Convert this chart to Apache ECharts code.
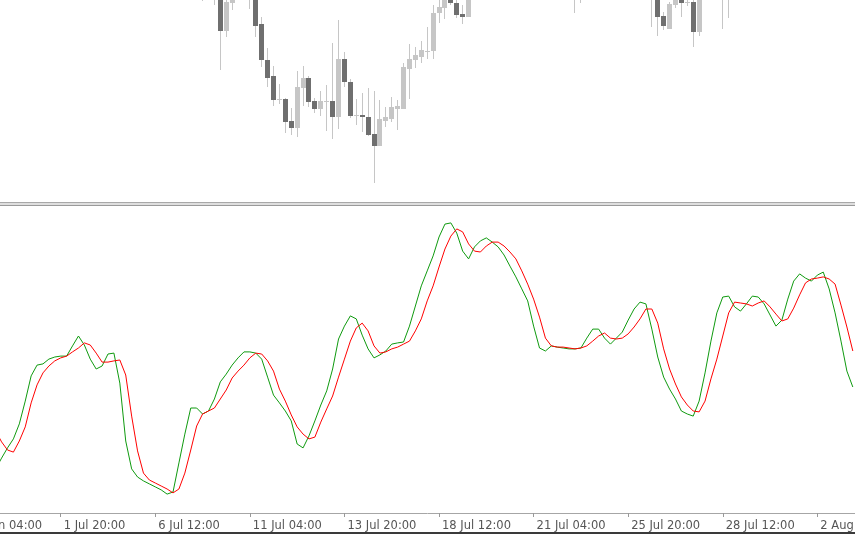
<!DOCTYPE html>
<html><head><meta charset="utf-8">
<script src="https://cdn.jsdelivr.net/npm/echarts@6/dist/echarts.min.js"></script>
<style>html,body{margin:0;padding:0;background:#fff}#c{width:855px;height:534px}</style>
</head><body><div id="c"></div>
<script>
// H4 bars, numbered relative to the "1 Jul 20:00" bar (bar 0)
const firstBar = -16;
const barCount = 151;

// time-axis labels, one every 16 bars starting at bar -16
const tickLabels = ['29 Jun 04:00', '1 Jul 20:00', '6 Jul 12:00', '11 Jul 04:00', '13 Jul 20:00',
  '18 Jul 12:00', '21 Jul 04:00', '25 Jul 20:00', '28 Jul 12:00', '2 Aug 04:00'];

// Stochastic main line (%K), bars -16 .. 134
const stochMain = [null, null, null, null, null,
  14.7, 18.3, 21.7, 24.7, 29.7, 37.3, 45.7, 49.3, 49.7, 51.3, 52.0,
  52.3, 52.3, 55.7, 59.0, 56.0, 51.3, 48.0, 49.0, 53.0, 53.3,
  43.3, 24.0, 14.7, 12.0, 10.7, 9.7, 8.7, 7.7, 6.3, 7.0,
  16.7, 26.3, 35.0, 35.0, 33.0, 34.0, 38.0, 43.7, 46.3, 49.3,
  51.7, 53.7, 53.7, 53.3, 51.3, 45.3, 39.3, 36.7, 34.0, 30.7,
  23.0, 21.7, 25.7, 30.7, 36.0, 40.7, 48.0, 58.0, 62.3, 65.7,
  64.7, 59.3, 54.7, 51.7, 52.7, 54.0, 56.3, 56.7, 57.0, 62.3,
  69.0, 75.7, 80.7, 85.7, 92.0, 96.3, 96.7, 93.3, 87.3, 84.7,
  88.7, 90.7, 91.7, 90.3, 88.7, 86.0, 82.3, 78.7, 74.7, 70.7,
  62.3, 55.0, 54.0, 55.7, 55.3, 55.0, 54.7, 54.7, 55.0, 58.3,
  61.3, 61.3, 58.3, 56.3, 58.3, 60.3, 64.3, 68.0, 70.3, 69.7,
  61.3, 52.0, 45.3, 41.3, 38.0, 34.0, 33.0, 32.3, 37.3, 46.7,
  57.3, 66.7, 72.0, 72.3, 68.7, 67.3, 69.7, 72.3, 72.0, 69.7,
  66.0, 62.3, 64.3, 71.3, 77.3, 79.7, 78.3, 77.3, 79.3, 80.3,
  74.7, 66.7, 57.3, 47.3, 42.0];

// Stochastic signal line (%D), bars -16 .. 134
const stochSignal = [null, null, null, null, null,
  27.3, 23.7, 21.0, 20.3, 24.0, 28.7, 36.7, 42.7, 46.7, 49.0, 50.7,
  51.7, 52.3, 53.7, 55.0, 56.7, 56.0, 53.3, 50.3, 50.3, 50.7,
  51.0, 46.0, 32.3, 20.7, 13.3, 11.0, 10.0, 9.0, 8.0, 6.7,
  8.0, 13.3, 21.0, 29.0, 33.0, 34.0, 35.0, 38.0, 41.0, 45.0,
  47.3, 49.3, 51.7, 53.3, 53.0, 50.7, 47.3, 41.3, 37.3, 32.7,
  28.7, 26.3, 24.7, 25.3, 30.3, 34.7, 39.0, 45.3, 51.3, 57.3,
  61.7, 63.3, 60.7, 55.7, 53.3, 53.7, 54.7, 55.3, 56.3, 57.3,
  60.7, 64.7, 70.7, 75.7, 82.0, 88.0, 92.3, 94.7, 93.7, 89.7,
  87.3, 87.0, 89.0, 90.3, 90.3, 89.0, 87.0, 84.7, 80.7, 76.3,
  71.3, 65.3, 58.3, 55.7, 55.3, 55.3, 55.0, 54.7, 55.0, 55.7,
  57.3, 59.0, 60.0, 58.3, 58.0, 58.3, 59.7, 62.0, 64.7, 68.0,
  68.0, 63.3, 54.7, 48.0, 43.0, 38.7, 36.0, 34.0, 33.7, 37.3,
  44.7, 51.3, 59.0, 66.7, 70.3, 70.0, 69.7, 69.0, 70.0, 70.7,
  68.7, 66.3, 64.0, 64.7, 68.3, 72.7, 76.7, 78.0, 78.3, 78.7,
  78.0, 76.3, 69.3, 62.0, 54.0];

// candles visible in the cropped price window: [bar, open, high, low, close]
const candles = [
  [24, 1.4408, 1.4420, 1.4399, 1.4415],
  [26, 1.4425, 1.4430, 1.4395, 1.4408],
  [27, 1.4405, 1.4410, 1.4330, 1.4369],
  [28, 1.4369, 1.4405, 1.4363, 1.4398],
  [29, 1.4397, 1.4408, 1.4390, 1.4404],
  [32, 1.4420, 1.4425, 1.4391, 1.4403],
  [33, 1.4403, 1.4408, 1.4363, 1.4374],
  [34, 1.4376, 1.4383, 1.4333, 1.4340],
  [35, 1.4340, 1.4352, 1.4313, 1.4322],
  [36, 1.4324, 1.4334, 1.4294, 1.4300],
  [37, 1.4300, 1.4316, 1.4296, 1.4301],
  [38, 1.4301, 1.4302, 1.4267, 1.4278],
  [39, 1.4279, 1.4292, 1.4265, 1.4272],
  [40, 1.4272, 1.4329, 1.4263, 1.4313],
  [41, 1.4312, 1.4334, 1.4294, 1.4322],
  [42, 1.4322, 1.4324, 1.4293, 1.4298],
  [43, 1.4299, 1.4302, 1.4287, 1.4291],
  [44, 1.4291, 1.4309, 1.4284, 1.4299],
  [45, 1.4299, 1.4315, 1.4269, 1.4299],
  [46, 1.4299, 1.4357, 1.4261, 1.4283],
  [47, 1.4283, 1.4380, 1.4271, 1.4341],
  [48, 1.4341, 1.4348, 1.4313, 1.4318],
  [49, 1.4318, 1.4321, 1.4282, 1.4284],
  [50, 1.4285, 1.4301, 1.4275, 1.4285],
  [51, 1.4285, 1.4307, 1.4268, 1.4283],
  [52, 1.4283, 1.4312, 1.4264, 1.4265],
  [53, 1.4266, 1.4309, 1.4217, 1.4254],
  [54, 1.4254, 1.4300, 1.4254, 1.4281],
  [55, 1.4279, 1.4293, 1.4273, 1.4283],
  [56, 1.4281, 1.4303, 1.4278, 1.4293],
  [57, 1.4291, 1.4300, 1.4270, 1.4294],
  [58, 1.4291, 1.4337, 1.4291, 1.4333],
  [59, 1.4331, 1.4356, 1.4301, 1.4341],
  [60, 1.4340, 1.4353, 1.4332, 1.4345],
  [61, 1.4343, 1.4359, 1.4337, 1.4350],
  [62, 1.4349, 1.4373, 1.4341, 1.4349],
  [63, 1.4349, 1.4395, 1.4341, 1.4387],
  [64, 1.4387, 1.4403, 1.4377, 1.4393],
  [65, 1.4392, 1.4410, 1.4381, 1.4403],
  [66, 1.4405, 1.4410, 1.4395, 1.4397],
  [67, 1.4397, 1.4402, 1.4382, 1.4385],
  [68, 1.4386, 1.4395, 1.4376, 1.4383],
  [69, 1.4383, 1.4410, 1.4383, 1.4405],
  [87, 1.4410, 1.4420, 1.4387, 1.4415],
  [88, 1.4408, 1.4420, 1.4397, 1.4414],
  [100, 1.4420, 1.4425, 1.4373, 1.4405],
  [101, 1.4403, 1.4408, 1.4364, 1.4383],
  [102, 1.4384, 1.4388, 1.4370, 1.4374],
  [103, 1.4371, 1.4398, 1.4371, 1.4396],
  [104, 1.4395, 1.4406, 1.4392, 1.4402],
  [105, 1.4402, 1.4406, 1.4383, 1.4397],
  [106, 1.4397, 1.4403, 1.4394, 1.4398],
  [107, 1.4398, 1.4403, 1.4353, 1.4368],
  [108, 1.4368, 1.4408, 1.4364, 1.4404],
  [112, 1.4410, 1.4425, 1.4371, 1.4420],
  [113, 1.4420, 1.4425, 1.4382, 1.4408]
];

const categories = Array.from({length: barCount}, (_, i) => String(firstBar + i));
const candleData = candles.map(c => [c[0] - firstBar, c[1], c[2], c[3], c[4]]);

const chart = echarts.init(document.getElementById('c'), null, {renderer: 'canvas'});
const gridLeft = -36.83, gridWidth = 892.6;
chart.setOption({
  animation: false,
  backgroundColor: '#ffffff',
  grid: [
    {left: gridLeft, width: gridWidth, top: 0, height: 200, outerBoundsMode: 'none', containLabel: false},
    {left: gridLeft, width: gridWidth, top: 213, height: 300, outerBoundsMode: 'none', containLabel: false}
  ],
  xAxis: [
    {type: 'category', gridIndex: 0, data: categories, show: false},
    {type: 'category', gridIndex: 1, data: categories,
      axisLine: {show: true, lineStyle: {color: '#a6a6a6', width: 1}},
      axisTick: {show: true, interval: 15, alignWithLabel: true, length: 4, lineStyle: {color: '#999'}},
      axisLabel: {interval: 15, align: 'left', margin: 7, padding: [0, 0, 0, 3],
        color: '#555', fontFamily: 'DejaVu Sans', fontSize: 11.5,
        formatter: (v, idx) => tickLabels[Math.round(idx / 16)] || ''},
      splitLine: {show: false}}
  ],
  yAxis: [
    {type: 'value', gridIndex: 0, min: 1.4200, max: 1.4400, show: false},
    {type: 'value', gridIndex: 1, min: 0, max: 100, show: false}
  ],
  series: [
    {type: 'custom', xAxisIndex: 0, yAxisIndex: 0, clip: true,
      encode: {x: 0, y: [1, 2, 3, 4]},
      data: candleData,
      renderItem: function (params, api) {
        const i = api.value(0), o = api.value(1), h = api.value(2), l = api.value(3), c = api.value(4);
        const pH = api.coord([i, h]), pL = api.coord([i, l]);
        const pO = api.coord([i, o]), pC = api.coord([i, c]);
        const cx = Math.floor(pH[0]) + 0.5;
        const bull = c >= o;
        const top = Math.min(pO[1], pC[1]);
        const hgt = Math.max(1, Math.abs(pO[1] - pC[1]));
        return {type: 'group', children: [
          {type: 'line', shape: {x1: cx, y1: pH[1], x2: cx, y2: pL[1]},
            style: {stroke: '#c6c6c6', lineWidth: 1}},
          {type: 'rect', shape: {x: cx - 2.5, y: top, width: 5, height: hgt},
            style: {fill: bull ? '#c6c6c6' : '#6f6f6f'}}
        ]};
      }
    },
    {type: 'line', xAxisIndex: 1, yAxisIndex: 1, data: stochMain, showSymbol: false,
      lineStyle: {color: '#0f9a0f', width: 1}, connectNulls: false},
    {type: 'line', xAxisIndex: 1, yAxisIndex: 1, data: stochSignal, showSymbol: false,
      lineStyle: {color: '#ff0000', width: 1}, connectNulls: false}
  ],
  graphic: [
    {type: 'rect', shape: {x: 0, y: 202, width: 855, height: 1}, style: {fill: '#a8a8a8'}},
    {type: 'rect', shape: {x: 0, y: 203, width: 855, height: 2}, style: {fill: '#dedede'}},
    {type: 'rect', shape: {x: 0, y: 205, width: 855, height: 1}, style: {fill: '#9a9a9a'}},
    {type: 'rect', shape: {x: 0, y: 532, width: 855, height: 2}, style: {fill: '#3a3a3a'}}
  ]
});
</script></body></html>
